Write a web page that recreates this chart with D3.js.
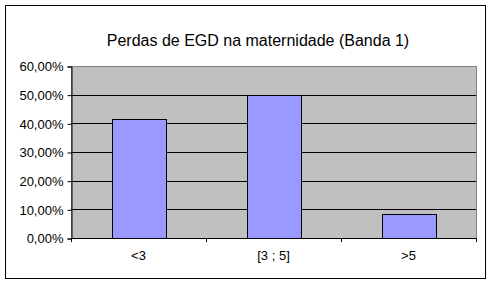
<!DOCTYPE html>
<html>
<head>
<meta charset="utf-8">
<script src="https://cdn.jsdelivr.net/npm/d3@7"></script>
<style>
	body { margin: 0; background: #fff; }
	text { font-family: 'Liberation Sans', Arial, sans-serif; fill: #000; }
</style>
</head>
<body>
<script>
// Dados do gráfico
const categories = ['<3', '[3 ; 5]', '>5']
const values = [41.67, 50, 8.33]
const yTicks = [0, 10, 20, 30, 40, 50, 60]

const margin = { top: 66, bottom: 47, left: 71, right: 16 }
const width = 492 - margin.left - margin.right
const height = 285 - margin.top - margin.bottom

const svg = d3
	.select('body')
	.append('svg')
	.attr('width', 492)
	.attr('height', 285)

// moldura externa
svg.append('rect')
	.attr('x', 5.5)
	.attr('y', 5.5)
	.attr('width', 480)
	.attr('height', 273)
	.attr('fill', '#fff')
	.attr('stroke', '#000')

svg.append('text')
	.attr('x', 258)
	.attr('y', 46)
	.attr('text-anchor', 'middle')
	.style('font-size', '16px')
	.text('Perdas de EGD na maternidade (Banda 1)')

const g = svg.append('g').attr('transform', `translate(${margin.left},${margin.top})`)

const xscale = d3.scaleBand().domain(categories).range([0, width]).paddingInner(0.6).paddingOuter(0.3)
const xband = d3.scaleBand().domain(categories).range([0, width])
const yscale = d3.scaleLinear().domain([0, 60]).range([height, 0])

// área de plotagem
g.append('rect')
	.attr('x', 0.5)
	.attr('y', 0.5)
	.attr('width', width)
	.attr('height', height)
	.attr('fill', '#c0c0c0')
	.attr('stroke', '#808080')

// linhas de grade
g.selectAll('line.grid')
	.data(yTicks.filter(d => d > 0 && d < 60))
	.join('line')
	.attr('class', 'grid')
	.attr('x1', 0)
	.attr('x2', width)
	.attr('y1', d => Math.round(yscale(d)) + 0.5)
	.attr('y2', d => Math.round(yscale(d)) + 0.5)
	.attr('stroke', '#000')

g.selectAll('rect.bar')
	.data(values)
	.join('rect')
	.attr('class', 'bar')
	.attr('x', (d, i) => Math.round(xscale(categories[i])) + 0.5)
	.attr('y', d => Math.round(yscale(d)) + 0.5)
	.attr('width', Math.round(xscale.bandwidth()))
	.attr('height', d => Math.round(height - yscale(d)))
	.attr('fill', '#9999ff')
	.attr('stroke', '#000')

// eixo y
const yaxis = d3.axisLeft(yscale)
	.tickValues(yTicks)
	.tickSize(4)
	.tickPadding(4)
	.tickFormat(d => d.toFixed(2).replace('.', ',') + '%')
const g_yaxis = g.append('g').attr('transform', 'translate(0.5,0.5)').call(yaxis)
g_yaxis.selectAll('text').style('font-size', '13px')

// eixo x
const xaxis = d3.axisBottom(xband).tickSize(0).tickPadding(12)
const g_xaxis = g.append('g').attr('transform', `translate(0,${height + 0.5})`).call(xaxis)
g_xaxis.select('.domain').remove()
g_xaxis.selectAll('text').style('font-size', '13px')
g.append('line').attr('x1', 0).attr('x2', width + 1).attr('y1', height + 0.5).attr('y2', height + 0.5).attr('stroke', '#000')
g.selectAll('line.xtick')
	.data([0, 1, 2, 3])
	.join('line')
	.attr('class', 'xtick')
	.attr('x1', i => Math.round(i * xband.step()) + 0.5)
	.attr('x2', i => Math.round(i * xband.step()) + 0.5)
	.attr('y1', height)
	.attr('y2', height + 4)
	.attr('stroke', '#000')
g_yaxis.select('.domain').attr('stroke', '#000')
</script>
</body>
</html>
